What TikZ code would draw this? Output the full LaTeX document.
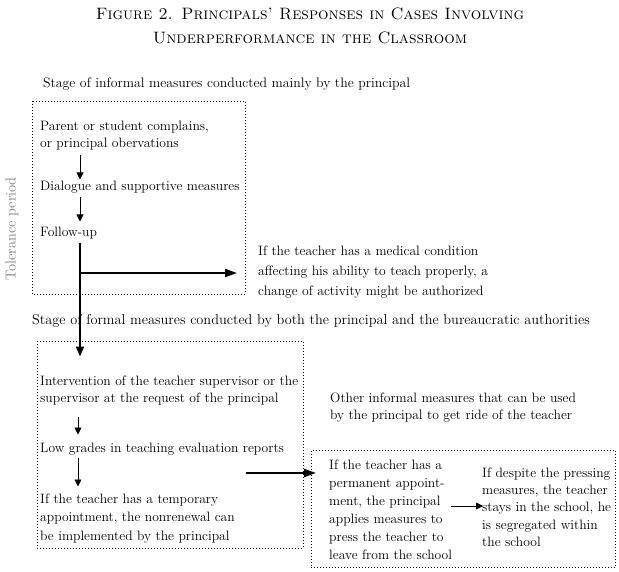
\documentclass[tikz,border=0pt]{standalone}
\usetikzlibrary{arrows.meta}
\begin{document}
\begin{tikzpicture}[x=1pt,y=-1pt,
  txt/.style={anchor=north west, align=left, inner sep=0pt, font=\fontsize{13.6}{17.5}\selectfont},
  box/.style={draw, line width=0.8pt, dash pattern=on 0.8pt off 2.2pt},
  thinarr/.style={line width=0.9pt, -{Triangle[length=7pt,width=7pt]}},
  thickarr/.style={line width=2pt, -{Triangle[length=12pt,width=8pt]}},
]
\useasboundingbox (0,0) rectangle (619,572);
% title
\node[anchor=north, align=center, inner sep=0pt, font=\fontsize{16.5}{24}\selectfont] (title) at (310,8)
  {\textsc{Figure 2. Principals' Responses in Cases Involving}\\\textsc{Underperformance in the Classroom}};
% tolerance
\node[rotate=90, text=black!50, inner sep=0pt, font=\fontsize{14.5}{16}\selectfont] (tol) at (12,229) {Tolerance period};
% boxes
\draw[box] (32,101) rectangle (245,294);
\draw[box] (37,341) rectangle (303,548);
\node[box, anchor=north west, minimum width=304pt, minimum height=117pt, inner sep=0pt] (b3) at (311,450) {};
% texts
\node[txt, font=\fontsize{13.8}{17.5}\selectfont] (stage1) at (43,77.5) {Stage of informal measures conducted mainly by the principal};
\node[txt] (parent) at (40,120.5) {Parent or student complains,\\or principal obervations};
\node[txt] (dialogue) at (40,180.5) {Dialogue and supportive measures};
\node[txt] (follow) at (40,226.5) {Follow-up};
\node[txt, font=\fontsize{13.6}{20}\selectfont] (medical) at (258,245.5) {If the teacher has a medical condition\\affecting his ability to teach properly, a\\change of activity might be authorized};
\node[txt, font=\fontsize{14.3}{17.5}\selectfont] (stage2) at (32,314.5) {Stage of formal measures conducted by both the principal and the bureaucratic authorities};
\node[txt, font=\fontsize{13.6}{17}\selectfont] (interv) at (40,375.5) {Intervention of the teacher supervisor or the\\supervisor at the request of the principal};
\node[txt] (low) at (40,442.5) {Low grades in teaching evaluation reports};
\node[txt, font=\fontsize{13.6}{18.5}\selectfont] (temp) at (40,493.5) {If the teacher has a temporary\\appointment, the nonrenewal can\\be implemented by the principal};
\node[txt, font=\fontsize{13.6}{17}\selectfont] (other) at (330,392.5) {Other informal measures that can be used\\by the principal to get ride of the teacher};
\node[txt, font=\fontsize{13.6}{18}\selectfont] (perm) at (329,459.5) {If the teacher has a\\permanent appoint-\\ment, the principal\\applies measures to\\press the teacher to\\leave from the school};
\node[txt, font=\fontsize{13.6}{17.3}\selectfont] (despite) at (482,467.5) {If despite the pressing\\measures, the teacher\\stays in the school, he\\is segregated within\\the school};
% connectors
\coordinate (ax) at (80,0);
\coordinate (bx) at (78,0);
\draw[thinarr, shorten <=5pt, shorten >=1pt] (parent.south -| ax) -- (dialogue.north -| ax);
\draw[thinarr, shorten <=4pt, shorten >=5pt] (dialogue.south -| ax) -- (follow.north -| ax);
\draw[line width=2pt, -{Triangle[length=10pt,width=8pt]}, shorten <=4pt, shorten >=19pt] (follow.south -| ax) -- (interv.north -| ax);
\coordinate (branch) at (80,273);
\draw[thickarr, shorten >=21pt] (branch) -- (medical.west |- branch);
\draw[thinarr, shorten <=12pt, shorten >=8pt] (interv.south -| bx) -- (low.north -| bx);
\draw[thinarr, shorten <=2.5pt, shorten >=7pt] (low.south -| bx) -- (temp.north -| bx);
\coordinate (ts) at (246,473);
\draw[thickarr, shorten >=-5pt] (ts) -- (b3.west |- ts);
\coordinate (ps) at (451,506);
\draw[thinarr, shorten >=-1pt] (ps) -- (despite.west |- ps);
\end{tikzpicture}
\end{document}
